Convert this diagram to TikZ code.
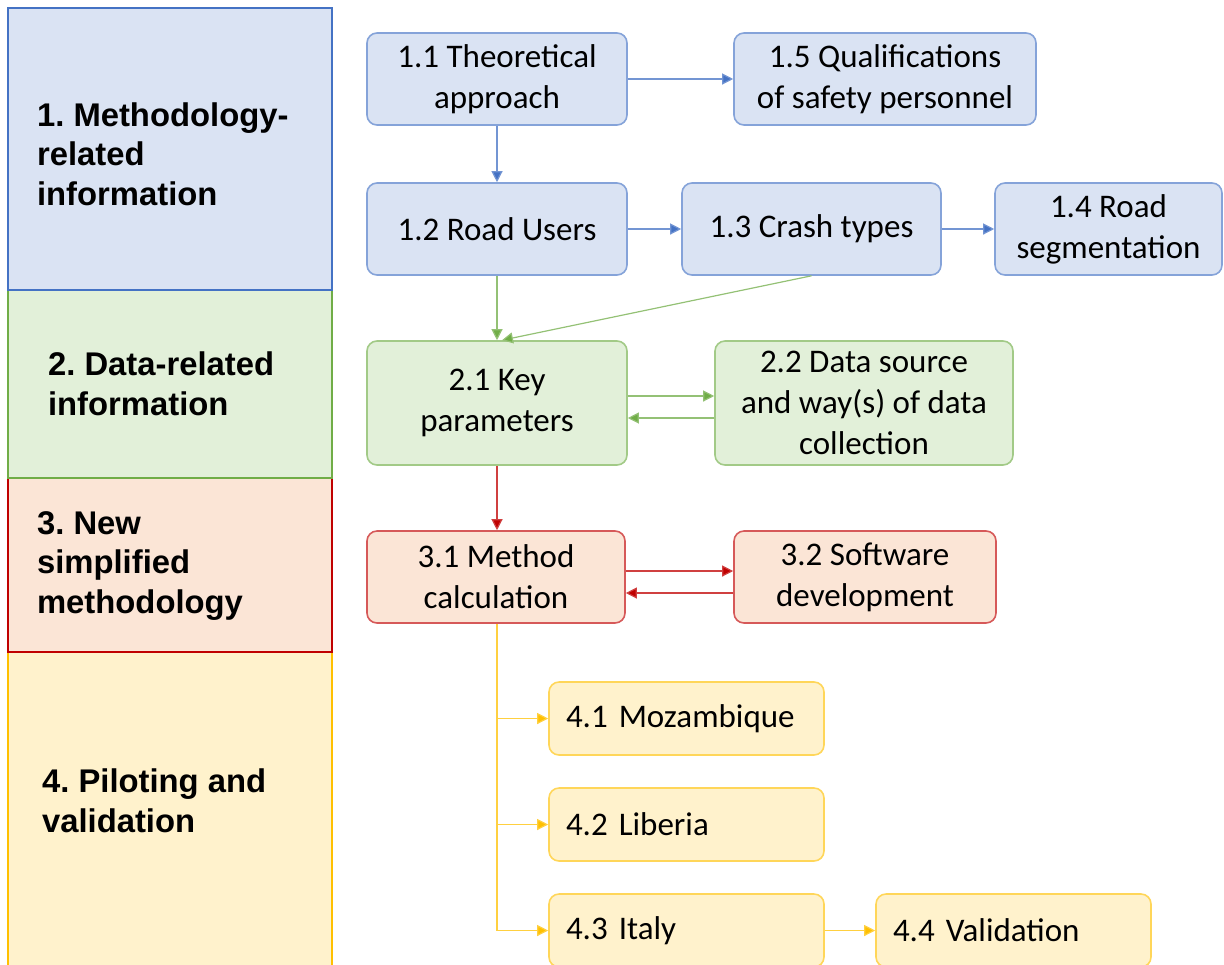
\documentclass[tikz,border=0pt]{standalone}
\usepackage{fontspec}
\setmainfont{Carlito}
\newfontfamily\bandfont{Liberation Sans}
\usepackage{tikz}
\usetikzlibrary{arrows.meta}
\usetikzlibrary{positioning}
\definecolor{blueL}{HTML}{4472C4}
\definecolor{blueF}{HTML}{DAE3F3}
\definecolor{greenL}{HTML}{70AD47}
\definecolor{greenF}{HTML}{E2F0D9}
\definecolor{redL}{HTML}{C00000}
\definecolor{redF}{HTML}{FBE5D6}
\definecolor{yellowL}{HTML}{FFC000}
\definecolor{yellowF}{HTML}{FFF2CC}
\frenchspacing

\begin{document}
\begin{tikzpicture}[x=0.5pt, y=-0.5pt,
  band/.style={draw=#1L, fill=#1F, line width=0.9pt},
  bandtext/.style={anchor=west, align=left, font=\bandfont\bfseries\fontsize{16.4}{19.8}\selectfont},
  box/.style={draw=#1L!65, fill=#1F, line width=0.8pt, rounded corners=5pt, align=center,
    minimum height=46pt, inner sep=2pt, font=\fontsize{16.5}{20.5}\selectfont},
  wbox/.style={draw=#1L!65, fill=#1F, line width=0.8pt, rounded corners=5pt, align=left,
    minimum height=36.5pt, inner xsep=8.5pt, text width=120.5pt, font=\fontsize{16.5}{20.5}\selectfont},
  con/.style={draw=#1L!75, line width=0.6pt, -{Triangle[length=5.5pt, width=5.5pt, fill=#1L]}}]
\useasboundingbox (0,0) rectangle (1224,964);
\draw[band=yellow] (8,652) rectangle (332,975);
\draw[band=red] (8,478) rectangle (332,652);
\draw[band=green] (8,290) rectangle (332,478);
\draw[band=blue] (8,8) rectangle (332,290);
\node[bandtext] (L1) at (30,154) {1. Methodology-\\related\\information};
\node[bandtext] (L2) at (41,384) {2. Data-related\\information};
\node[bandtext] (L3) at (30,566) {3. New\\simplified\\methodology};
\node[bandtext] (L4) at (35,801) {4. Piloting and\\validation};
\node[box=blue, minimum width=130pt] (S1N1) at (497,79) {1.1 Theoretical\\approach};
\node[box=blue, minimum width=151pt] (S1N5) at (885,79) {1.5 Qualifications\\of safety personnel};
\node[box=blue, minimum width=130pt] (S1N2) at (497,229) {1.2 Road Users};
\node[box=blue, minimum width=129.5pt] (S1N3) at (811.5,229) {1.3 Crash types};
\node[box=blue, minimum width=113.5pt] (S1N4) at (1108.5,229) {1.4 Road\\segmentation};
\node[box=green, minimum width=130pt, minimum height=62pt] (S2N1) at (497,403) {2.1 Key\\parameters};
\node[box=green, minimum width=149pt, minimum height=62pt] (S2N2) at (864,403) {2.2 Data source\\and way(s) of data\\collection};
\node[box=red, minimum width=129pt] (S3N1) at (496,577) {3.1 Method\\calculation};
\node[box=red, minimum width=131pt] (S3N2) at (865,577) {3.2 Software\\development};
\node[wbox=yellow] (S4N1) at (686.5,718.5) {4.1 Mozambique};
\node[wbox=yellow] (S4N2) at (686.5,824.5) {4.2 Liberia};
\node[wbox=yellow] (S4N3) at (686.5,930.5) {4.3 Italy};
\node[wbox=yellow] (S4N4) at (1013.5,930.5) {4.4 Validation};
\draw[con=blue] (S1N1) -- (S1N5);
\draw[con=blue] (S1N1) -- (S1N2);
\draw[con=blue] (S1N2) -- (S1N3);
\draw[con=blue] (S1N3) -- (S1N4);
\draw[con=green] (S1N2) -- (S2N1);
\draw[con=green] (S1N3.south) -- ([xshift=2.5pt]S2N1.north);
\draw[con=green] ([yshift=3.5pt]S2N1.east) -- ([yshift=3.5pt]S2N1.east -| S2N2.west);
\draw[con=green] ([yshift=-7.5pt]S2N2.west) -- ([yshift=-7.5pt]S2N2.west -| S2N1.east);
\draw[con=red] (S2N1) -- (S2N1 |- S3N1.north);
\draw[con=red] ([yshift=3pt]S3N1.east) -- ([yshift=3pt]S3N1.east -| S3N2.west);
\draw[con=red] ([yshift=-8pt]S3N2.west) -- ([yshift=-8pt]S3N2.west -| S3N1.east);
\draw[draw=yellowL!75, line width=0.6pt] (S3N1.south -| S2N1) -- (S2N1 |- S4N3.west);
\draw[con=yellow] (S2N1 |- S4N1.west) -- (S4N1.west);
\draw[con=yellow] (S2N1 |- S4N2.west) -- (S4N2.west);
\draw[con=yellow] (S2N1 |- S4N3.west) -- (S4N3.west);
\draw[con=yellow] (S4N3) -- (S4N4);
\end{tikzpicture}
\end{document}
